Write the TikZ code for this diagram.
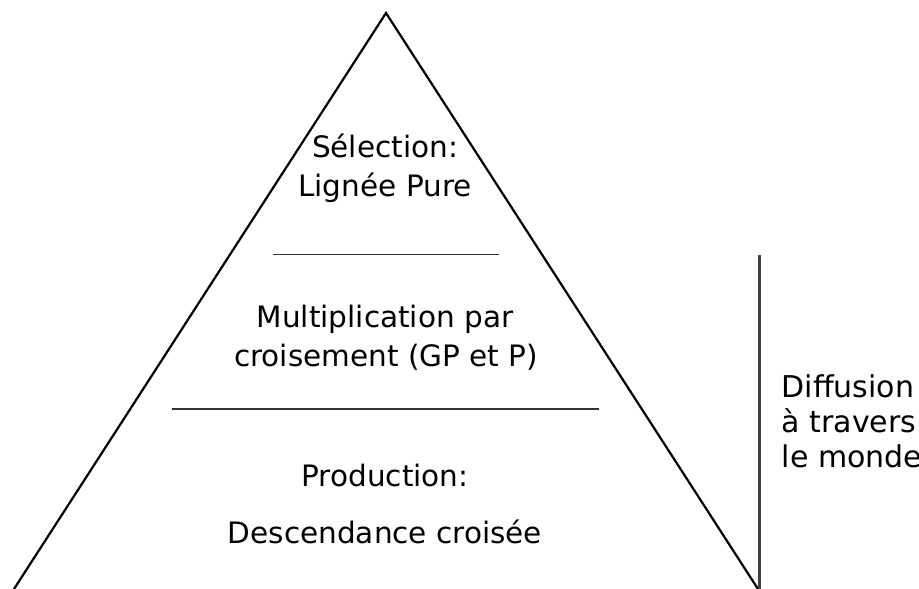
\documentclass[tikz,border=0pt]{standalone}
\usepackage{fontspec}
\setmainfont{DejaVu Sans}
\usetikzlibrary{calc}

\begin{document}
\begin{tikzpicture}[x=1pt,y=-1pt,
    pyrtext/.style={inner sep=0pt,anchor=base,font=\fontsize{29.5}{35}\selectfont},
    sidetext/.style={inner sep=0pt,anchor=base west,font=\fontsize{30}{35}\selectfont},
    layerline/.style={draw=black!80,line width=1.9pt}]
  \useasboundingbox (0,0) rectangle (919,589);

  % pyramid outline (base runs off the bottom edge)
  \coordinate (apex) at (386,13);
  \coordinate (baseL) at (14,589);
  \coordinate (baseR) at (758,589);
  \draw[line width=2.2pt,line join=miter] (baseL) -- (apex) -- (baseR);

  % layer separators
  \coordinate (sepAw) at (273,254.5);
  \coordinate (sepAe) at (499,254.5);
  \coordinate (sepBw) at (172,409);
  \coordinate (sepBe) at (599,409);
  \draw[layerline] (sepAw) -- (sepAe);
  \draw[layerline] (sepBw) -- (sepBe);

  % top layer
  \node[pyrtext] (selA) at (385,157) {Sélection:};
  \node[pyrtext] (selB) at (385,196) {Lignée Pure};

  % middle layer
  \node[pyrtext] (multA) at (385,327) {Multiplication par};
  \node[pyrtext] (multB) at (386,366) {croisement (GP et P)};

  % bottom layer
  \node[pyrtext] (prodA) at (385,486) {Production:};
  \node[pyrtext] (prodB) at (385,543) {Descendance croisée};

  % side bar and label
  \coordinate (barTop) at (759.5,254.5);
  \coordinate (barBot) at (759.5,589);
  \draw[draw=black!75,line width=2.3pt] (barTop) -- (barBot);
  \node[sidetext] (diffA) at (781.5,397) {Diffusion};
  \node[sidetext] (diffB) at (781.5,432) {à travers};
  \node[sidetext] (diffC) at (781.5,467) {le monde};
\end{tikzpicture}
\end{document}
